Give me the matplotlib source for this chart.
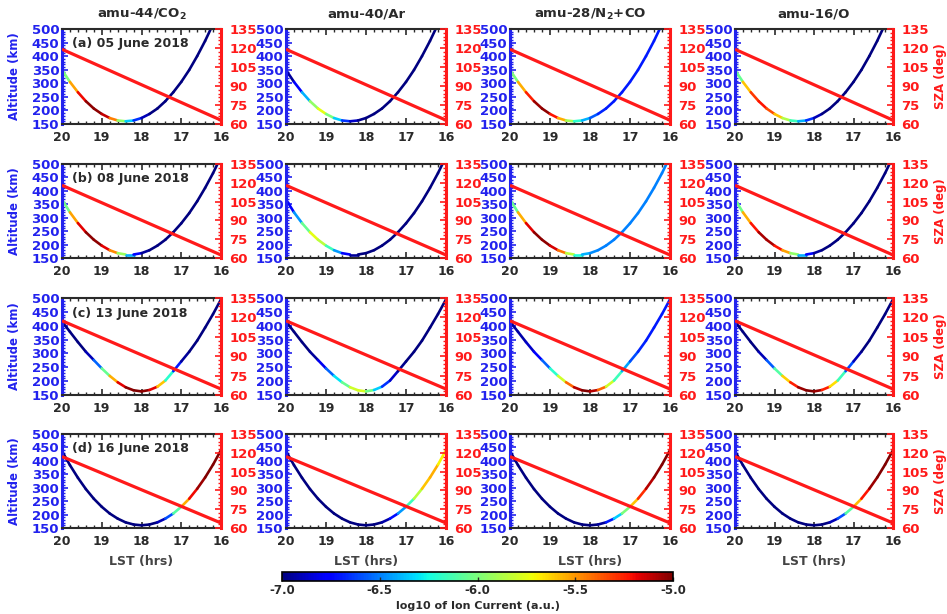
import numpy as np
import matplotlib
matplotlib.use('Agg')
import matplotlib.pyplot as plt
import matplotlib.colors as mcolors
import matplotlib.cm as cm
from matplotlib.collections import LineCollection
from matplotlib.ticker import MultipleLocator

plt.rcParams['font.family'] = ['DejaVu Sans']
plt.rcParams['font.weight'] = 'bold'
plt.rcParams['mathtext.default'] = 'bf'

# ---------------- data ----------------
species = ['amu-44/CO$_2$', 'amu-40/Ar', 'amu-28/N$_2$+CO', 'amu-16/O']
dates = ['(a) 05 June 2018', '(b) 08 June 2018', '(c) 13 June 2018', '(d) 16 June 2018']

lst = [20.0, 19.8, 19.6, 19.4, 19.2, 19.0, 18.8, 18.6, 18.4, 18.2, 18.0,
       17.8, 17.6, 17.4, 17.2, 17.0, 16.8, 16.6, 16.4, 16.2, 16.0]

alt_a = [349, 305, 267, 234, 207, 187, 172, 163, 160, 163, 172, 187, 207, 234, 267, 305, 349, 400, 456, 518, 586]
alt_b = [368, 320, 280, 246, 218, 196, 179, 168, 163, 163, 168, 179, 196, 218, 246, 279, 317, 361, 411, 466, 527]
alt_c = [415, 378, 341, 306, 276, 246, 219, 196, 178, 167, 163, 168, 180, 202, 236, 271, 306, 346, 393, 442, 495]
alt_d = [436, 384, 337, 295, 259, 229, 204, 185, 171, 163, 160, 163, 171, 185, 204, 229, 259, 296, 338, 386, 440]

sza_lst = [20, 19, 18, 17, 16]
sza_a = [119.0, 105.0, 91.0, 77.0, 63.0]
sza_b = [118.0, 104.1, 90.2, 76.3, 62.4]
sza_c = [117.4, 104.2, 91.0, 77.8, 64.6]
sza_d = [117.0, 103.8, 90.5, 77.3, 64.0]

# log10 of ion current along each pass (same LST grid)
ion_a_co2 = [-6.3, -5.7, -5.35, -5.05, -5.0, -5.05, -5.2, -5.7, -6.2, -6.5, -6.8, -7, -7, -7, -7, -7, -7, -7, -7, -7, -7]
ion_a_ar  = [-7, -6.9, -6.6, -6.2, -5.7, -5.8, -6.2, -6.5, -6.8, -6.95, -7, -7, -7, -7, -7, -7, -7, -7, -7, -7, -7]
ion_a_n2  = [-6.3, -5.7, -5.4, -5.1, -5.0, -5.05, -5.4, -5.7, -6.1, -6.3, -6.5, -6.65, -6.7, -6.7, -6.7, -6.7, -6.7, -6.7, -6.7, -6.7, -6.7]
ion_a_o   = [-6.3, -5.8, -5.4, -5.2, -5.25, -5.45, -5.75, -6.0, -6.3, -6.5, -6.8, -7, -7, -7, -7, -7, -7, -7, -7, -7, -7]

ion_b_co2 = [-6.3, -5.75, -5.3, -5.05, -5.0, -5.05, -5.3, -5.65, -6.2, -6.6, -6.9, -7, -7, -7, -7, -7, -7, -7, -7, -7, -7]
ion_b_ar  = [-6.9, -6.6, -6.3, -5.8, -5.7, -6.0, -6.3, -6.6, -6.9, -7, -7, -7, -7, -7, -7, -7, -7, -7, -7, -7, -7]
ion_b_n2  = [-6.3, -5.8, -5.3, -5.05, -5.0, -5.05, -5.25, -5.6, -6.1, -6.35, -6.45, -6.5, -6.5, -6.5, -6.5, -6.5, -6.5, -6.5, -6.5, -6.5, -6.5]
ion_b_o   = [-6.3, -5.75, -5.35, -5.1, -5.05, -5.1, -5.35, -5.7, -6.2, -6.6, -6.9, -7, -7, -7, -7, -7, -7, -7, -7, -7, -7]

ion_c_co2 = [-7, -7, -7, -7, -6.8, -6.3, -5.8, -5.3, -5.05, -5.0, -5.0, -5.05, -5.3, -5.9, -6.5, -6.9, -7, -7, -7, -7, -7]
ion_c_ar  = [-7, -7, -7, -7, -6.9, -6.7, -6.4, -6.2, -5.9, -5.7, -5.85, -6.2, -6.5, -6.8, -6.95, -7, -7, -7, -7, -7, -7]
ion_c_n2  = [-6.95, -6.95, -6.9, -6.85, -6.7, -6.4, -6.0, -5.6, -5.2, -5.0, -5.0, -5.2, -5.6, -6.0, -6.3, -6.55, -6.65, -6.7, -6.7, -6.7, -6.7]
ion_c_o   = [-7, -7, -7, -7, -6.8, -6.35, -5.85, -5.4, -5.1, -5.0, -5.0, -5.1, -5.4, -5.9, -6.4, -6.8, -7, -7, -7, -7, -7]

ion_d_co2 = [-7, -7, -7, -7, -7, -7, -7, -7, -7, -7, -7, -7, -7, -6.8, -6.4, -5.8, -5.3, -5.1, -5.0, -5.0, -5.0]
ion_d_ar  = [-7, -7, -7, -7, -7, -7, -7, -7, -7, -7, -7, -7, -7, -6.85, -6.6, -6.3, -6.0, -5.7, -5.5, -5.6, -5.8]
ion_d_n2  = [-7, -7, -7, -7, -7, -7, -7, -7, -7, -7, -7, -7, -6.9, -6.5, -6.2, -5.8, -5.4, -5.15, -5.05, -5.0, -5.0]
ion_d_o   = [-7, -7, -7, -7, -7, -7, -7, -7, -7, -7, -7, -7, -7, -6.8, -6.4, -5.8, -5.35, -5.1, -5.0, -5.0, -5.0]

alts = [alt_a, alt_b, alt_c, alt_d]
szas = [sza_a, sza_b, sza_c, sza_d]
ions = [[ion_a_co2, ion_a_ar, ion_a_n2, ion_a_o],
        [ion_b_co2, ion_b_ar, ion_b_n2, ion_b_o],
        [ion_c_co2, ion_c_ar, ion_c_n2, ion_c_o],
        [ion_d_co2, ion_d_ar, ion_d_n2, ion_d_o]]

cb_ticks = [-7.0, -6.5, -6.0, -5.5, -5.0]
cb_ticklabels = ['-7.0', '-6.5', '-6.0', '-5.5', '-5.0']

# ---------------- layout ----------------
W, H = 947, 614
fig = plt.figure(figsize=(W / 100, H / 100), dpi=100)
col_l = [62, 286, 510, 735]
col_r = [221, 446, 670, 893]
row_t = [29, 164, 298, 434]
row_b = [124, 258, 395, 528]

BLUE = '#2222ee'
RED = '#ff1a1a'
DARK = '#2a2a2a'
cmap = plt.get_cmap('jet')
norm = mcolors.Normalize(vmin=-7, vmax=-5)

for r in range(4):
    for c in range(4):
        ax = fig.add_axes([col_l[c] / W, 1 - row_b[r] / H,
                           (col_r[c] - col_l[c]) / W, (row_b[r] - row_t[r]) / H])
        x = np.array(lst, dtype=float)
        y = np.array(alts[r], dtype=float)
        v = np.array(ions[r][c], dtype=float)
        pts = np.column_stack([x, y]).reshape(-1, 1, 2)
        segs = np.concatenate([pts[:-1], pts[1:]], axis=1)
        lc = LineCollection(segs, cmap=cmap, norm=norm, linewidth=1.9, capstyle='round')
        lc.set_array((v[:-1] + v[1:]) / 2)
        ax.add_collection(lc)
        ax.set_xlim(20, 16)
        ax.set_ylim(150, 500)

        ax.xaxis.set_major_locator(MultipleLocator(1))
        ax.xaxis.set_minor_locator(MultipleLocator(0.2))
        ax.yaxis.set_major_locator(MultipleLocator(50))
        ax.yaxis.set_minor_locator(MultipleLocator(10))
        ax.tick_params(axis='x', which='both', direction='in', top=True, bottom=True,
                       colors=DARK, labelsize=9, pad=5)
        ax.tick_params(axis='x', which='major', length=4, width=1.2)
        ax.tick_params(axis='x', which='minor', length=2, width=1.0)
        ax.tick_params(axis='y', which='both', direction='in', left=True, right=False,
                       colors=BLUE, labelsize=9.5, pad=2)
        ax.tick_params(axis='y', which='major', length=4, width=1.2)
        ax.tick_params(axis='y', which='minor', length=2, width=1.0)
        ax.spines['left'].set_color(BLUE)
        ax.spines['left'].set_linewidth(2.2)
        ax.spines['right'].set_visible(False)
        for s in ('top', 'bottom'):
            ax.spines[s].set_color(DARK)
            ax.spines[s].set_linewidth(1.5)

        ax2 = ax.twinx()
        ax2.plot(sza_lst, szas[r], color=RED, lw=2.3, solid_capstyle='butt')
        ax2.set_ylim(60, 135)
        ax2.set_xlim(20, 16)
        ax2.yaxis.set_major_locator(MultipleLocator(15))
        ax2.yaxis.set_minor_locator(MultipleLocator(3))
        ax2.tick_params(axis='y', which='both', direction='in', right=True, left=False,
                        colors=RED, labelsize=9.5, pad=6)
        ax2.tick_params(axis='y', which='major', length=4, width=1.2)
        ax2.tick_params(axis='y', which='minor', length=2, width=1.0)
        ax2.spines['right'].set_color(RED)
        ax2.spines['right'].set_linewidth(2.2)
        for s in ('left', 'top', 'bottom'):
            ax2.spines[s].set_visible(False)

        if c == 0:
            ax.text(0.065, 0.845, dates[r], transform=ax.transAxes, fontsize=9,
                    fontweight='bold', color=DARK, ha='left', va='center')
            fig.text(15 / W, 1 - (row_t[r] + row_b[r]) / 2 / H, 'Altitude (km)',
                     rotation=90, color=BLUE, fontsize=8.5, fontweight='bold',
                     ha='center', va='center')
        if c == 3:
            fig.text(940 / W, 1 - (row_t[r] + row_b[r]) / 2 / H, 'SZA (deg)',
                     rotation=90, color=RED, fontsize=8.5, fontweight='bold',
                     ha='center', va='center')
        if r == 0:
            fig.text((col_l[c] + col_r[c]) / 2 / W, 1 - 14 / H, species[c],
                     fontsize=9.5, fontweight='bold', color=DARK, ha='center', va='center')
        if r == 3:
            fig.text((col_l[c] + col_r[c]) / 2 / W, 1 - 562 / H, 'LST (hrs)',
                     fontsize=9, fontweight='bold', color='#444444', ha='center', va='center')

# ---------------- colorbar ----------------
cax = fig.add_axes([282 / W, 1 - 581 / H, 391 / W, 9 / H])
sm = cm.ScalarMappable(norm=norm, cmap=cmap)
cb = fig.colorbar(sm, cax=cax, orientation='horizontal', ticks=cb_ticks)
cb.ax.set_xticklabels(cb_ticklabels)
cb.ax.tick_params(direction='in', length=3, width=1.0, labelsize=8.5, pad=2.5, colors=DARK)
cb.outline.set_linewidth(1.2)
fig.text(477.5 / W, 1 - 606 / H, 'log10 of Ion Current (a.u.)', fontsize=8,
         fontweight='bold', color=DARK, ha='center', va='center')

fig.savefig('out.png', dpi=100)
